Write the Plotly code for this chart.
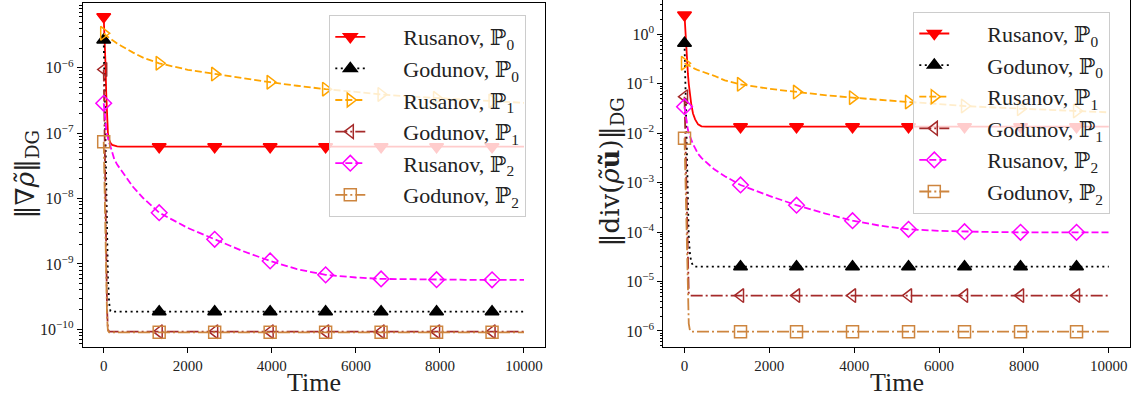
import plotly.graph_objects as go

# ---------------- data ----------------
time = [0, 20, 40, 60, 80, 100, 130, 160, 200, 250, 320, 400, 500, 700, 950,
        1320, 2000, 2640, 3300, 3960, 4600, 5280, 6000, 6600, 7300, 7920, 8600, 9240, 10000]
marker_times = [0, 1320, 2640, 3960, 5280, 6600, 7920, 9240]

labels = ["Rusanov, ℙ<sub>0</sub>", "Godunov, ℙ<sub>0</sub>", "Rusanov, ℙ<sub>1</sub>",
          "Godunov, ℙ<sub>1</sub>", "Rusanov, ℙ<sub>2</sub>", "Godunov, ℙ<sub>2</sub>"]

# left panel: ||grad rho~||_DG
grad_rus_p0 = [6.0e-6, 3.2e-6, 1.26e-6, 4.0e-7, 1.4e-7, 1.0e-7, 7.9e-8, 7.1e-8, 6.6e-8, 6.4e-8,
               6.25e-8, 6.2e-8, 6.2e-8, 6.2e-8, 6.2e-8, 6.2e-8, 6.2e-8, 6.2e-8, 6.2e-8, 6.2e-8,
               6.2e-8, 6.2e-8, 6.2e-8, 6.2e-8, 6.2e-8, 6.2e-8, 6.2e-8, 6.2e-8, 6.2e-8]
grad_god_p0 = [2.65e-6, 6.0e-7, 1.0e-7, 1.3e-8, 2.0e-9, 6.3e-10, 2.5e-10, 1.9e-10, 1.86e-10, 1.86e-10,
               1.86e-10, 1.86e-10, 1.86e-10, 1.86e-10, 1.86e-10, 1.86e-10, 1.86e-10, 1.86e-10, 1.86e-10, 1.86e-10,
               1.86e-10, 1.86e-10, 1.86e-10, 1.86e-10, 1.86e-10, 1.86e-10, 1.86e-10, 1.86e-10, 1.86e-10]
grad_rus_p1 = [3.36e-6, 3.24e-6, 3.16e-6, 3.09e-6, 3.02e-6, 2.95e-6, 2.85e-6, 2.75e-6, 2.63e-6, 2.51e-6,
               2.34e-6, 2.19e-6, 2.0e-6, 1.70e-6, 1.41e-6, 1.17e-6, 9.3e-7, 8.0e-7, 6.9e-7, 6.0e-7,
               5.3e-7, 4.7e-7, 4.27e-7, 3.9e-7, 3.63e-7, 3.4e-7, 3.24e-7, 3.1e-7, 2.9e-7]
grad_god_p1 = [9.4e-7, 1.0e-7, 1.0e-8, 1.0e-9, 2.0e-10, 1.0e-10, 9.2e-11, 9.2e-11, 9.2e-11, 9.2e-11,
               9.2e-11, 9.2e-11, 9.2e-11, 9.2e-11, 9.2e-11, 9.2e-11, 9.2e-11, 9.2e-11, 9.2e-11, 9.2e-11,
               9.2e-11, 9.2e-11, 9.2e-11, 9.2e-11, 9.2e-11, 9.2e-11, 9.2e-11, 9.2e-11, 9.2e-11]
grad_rus_p2 = [2.86e-7, 2.0e-7, 1.41e-7, 1.12e-7, 9.5e-8, 8.3e-8, 7.1e-8, 6.3e-8, 5.0e-8, 4.0e-8,
               3.3e-8, 2.8e-8, 2.35e-8, 1.5e-8, 1.0e-8, 6.07e-9, 3.55e-9, 2.38e-9, 1.58e-9, 1.11e-9,
               8.3e-10, 6.8e-10, 6.2e-10, 5.9e-10, 5.8e-10, 5.73e-10, 5.72e-10, 5.72e-10, 5.72e-10]
grad_god_p2 = [7.4e-8, 1.5e-8, 2.5e-9, 5.0e-10, 1.5e-10, 9.5e-11, 9.0e-11, 9.0e-11, 9.0e-11, 9.0e-11,
               9.0e-11, 9.0e-11, 9.0e-11, 9.0e-11, 9.0e-11, 9.0e-11, 9.0e-11, 9.0e-11, 9.0e-11, 9.0e-11,
               9.0e-11, 9.0e-11, 9.0e-11, 9.0e-11, 9.0e-11, 9.0e-11, 9.0e-11, 9.0e-11, 9.0e-11]

# right panel: ||div(rho~ u~)||_DG
div_rus_p0 = [2.46, 1.12, 0.56, 0.28, 0.158, 0.10, 0.056, 0.038, 0.025, 0.019,
              0.0151, 0.0138, 0.01355, 0.01355, 0.01355, 0.01355, 0.01355, 0.01355, 0.01355, 0.01355,
              0.01355, 0.01355, 0.01355, 0.01355, 0.01355, 0.01355, 0.01355, 0.01355, 0.01355]
div_god_p0 = [0.66, 0.1, 0.01, 1.0e-3, 2.0e-4, 7.9e-5, 3.5e-5, 2.5e-5, 2.1e-5, 2.0e-5,
              2.0e-5, 2.0e-5, 2.0e-5, 2.0e-5, 2.0e-5, 2.0e-5, 2.0e-5, 2.0e-5, 2.0e-5, 2.0e-5,
              2.0e-5, 2.0e-5, 2.0e-5, 2.0e-5, 2.0e-5, 2.0e-5, 2.0e-5, 2.0e-5, 2.0e-5]
div_rus_p1 = [0.26, 0.254, 0.248, 0.243, 0.237, 0.232, 0.224, 0.216, 0.209, 0.20,
              0.188, 0.178, 0.166, 0.145, 0.117, 0.0975, 0.079, 0.068, 0.059, 0.0523,
              0.0468, 0.0428, 0.0389, 0.0355, 0.0331, 0.0313, 0.0295, 0.0281, 0.0264]
div_god_p1 = [0.0547, 6.3e-3, 6.3e-4, 6.3e-5, 1.0e-5, 5.6e-6, 5.2e-6, 5.2e-6, 5.2e-6, 5.2e-6,
              5.2e-6, 5.2e-6, 5.2e-6, 5.2e-6, 5.2e-6, 5.2e-6, 5.2e-6, 5.2e-6, 5.2e-6, 5.2e-6,
              5.2e-6, 5.2e-6, 5.2e-6, 5.2e-6, 5.2e-6, 5.2e-6, 5.2e-6, 5.2e-6, 5.2e-6]
div_rus_p2 = [0.0344, 0.0251, 0.0178, 0.0141, 0.0117, 0.010, 8.3e-3, 7.1e-3, 6.0e-3, 5.0e-3,
              3.8e-3, 3.16e-3, 2.63e-3, 1.86e-3, 1.35e-3, 8.97e-4, 5.4e-4, 3.5e-4, 2.4e-4, 1.7e-4,
              1.35e-4, 1.14e-4, 1.06e-4, 1.02e-4, 1.0e-4, 9.9e-5, 9.9e-5, 9.9e-5, 9.9e-5]
div_god_p2 = [0.0079, 1.6e-3, 2.5e-4, 3.2e-5, 5.0e-6, 1.4e-6, 1.0e-6, 9.7e-7, 9.7e-7, 9.7e-7,
              9.7e-7, 9.7e-7, 9.7e-7, 9.7e-7, 9.7e-7, 9.7e-7, 9.7e-7, 9.7e-7, 9.7e-7, 9.7e-7,
              9.7e-7, 9.7e-7, 9.7e-7, 9.7e-7, 9.7e-7, 9.7e-7, 9.7e-7, 9.7e-7, 9.7e-7]

x_ticks = [0, 2000, 4000, 6000, 8000, 10000]
grad_y_exponents = [-10, -9, -8, -7, -6]
div_y_exponents = [-6, -5, -4, -3, -2, -1, 0]

# ---------------- styles ----------------
styles = [
    dict(color="#ff0000", symbol="triangle-down", dash="solid"),
    dict(color="#000000", symbol="triangle-up", dash="2px,3.5px"),
    dict(color="#ffa500", symbol="triangle-right-open", dash="7px,3px"),
    dict(color="#a52a2a", symbol="triangle-left-open", dash="12px,3px,2px,3px"),
    dict(color="#ff00ff", symbol="diamond-open", dash="7px,3px"),
    dict(color="#cd853f", symbol="square-open", dash="12px,3px,2px,3px"),
]

FONT = "Liberation Serif, DejaVu Serif, serif"
TITLE_FONT = "DejaVu Serif, Liberation Serif, serif"
marker_idx = [time.index(t) for t in marker_times]
PAD = "\u00a0" * 6

fig = go.Figure()

panels = [
    ("x", "y", "legend", [grad_rus_p0, grad_god_p0, grad_rus_p1, grad_god_p1, grad_rus_p2, grad_god_p2]),
    ("x2", "y2", "legend2", [div_rus_p0, div_god_p0, div_rus_p1, div_god_p1, div_rus_p2, div_god_p2]),
]
for xa, ya, lg, series in panels:
    for i, (vals, st, lab) in enumerate(zip(series, styles, labels)):
        fig.add_trace(go.Scatter(
            x=time, y=vals, xaxis=xa, yaxis=ya, name=PAD + lab, legend=lg,
            legendgroup=f"{lg}_{i}",
            mode="lines+markers",
            line=dict(color=st["color"], width=1.8, dash=st["dash"]),
            marker=dict(symbol=st["symbol"], size=12, color=st["color"],
                        line=dict(color=st["color"], width=1.5)),
            selectedpoints=marker_idx,
            selected=dict(marker=dict(opacity=1)),
            unselected=dict(marker=dict(opacity=0)),
            hoverinfo="skip",
        ))

W, H = 1134, 403
def px_x(p):
    return p / W
def px_y(p):
    return 1 - p / H

def log_ticks(exps):
    vals = [10.0 ** e for e in exps]
    text = ["10<sup>" + str(e).replace("-", "−") + "</sup>" for e in exps]
    minor = [m * 10.0 ** e for e in range(min(exps) - 1, max(exps) + 1) for m in range(2, 10)]
    return vals, text, minor

axis_common = dict(showline=True, linecolor="black", linewidth=1, mirror=True,
                   ticks="outside", ticklen=5, tickcolor="black", showgrid=False,
                   zeroline=False, tickfont=dict(family=FONT, size=15, color="#222"))

xaxis_base = dict(axis_common, range=[-500, 10500], tickvals=x_ticks,
                  ticktext=[str(v) for v in x_ticks])

def yaxis_conf(exps, rng, dom):
    vals, text, minor = log_ticks(exps)
    return dict(axis_common, type="log", range=rng, domain=dom,
                tickmode="array", tickvals=vals, ticktext=text,
                tickfont=dict(family=FONT, size=16, color="#222"),
                minor=dict(ticks="outside", ticklen=2.5, tickcolor="black",
                           tickmode="array", tickvals=minor, showgrid=False))

legend_common = dict(xanchor="left", yanchor="top",
                     bgcolor="rgba(255,255,255,0.8)", bordercolor="#cccccc", borderwidth=1,
                     font=dict(family=FONT, size=22, color="#222"), traceorder="grouped",
                     tracegroupgap=0)

fig.update_layout(
    width=W, height=H, autosize=False,
    margin=dict(l=0, r=0, t=0, b=0, autoexpand=False),
    paper_bgcolor="white", plot_bgcolor="white",
    font=dict(family=FONT, color="#222"),
    showlegend=True,
    xaxis=dict(xaxis_base, domain=[px_x(82.7), px_x(545)], anchor="y"),
    yaxis=dict(yaxis_conf(grad_y_exponents, [-10.275, -5.015], [px_y(347.3), px_y(3.3)]), anchor="x"),
    xaxis2=dict(xaxis_base, domain=[px_x(663.3), px_x(1130)], anchor="y2"),
    yaxis2=dict(yaxis_conf(div_y_exponents, [-6.33, 0.694], [px_y(347.3), 1.0]), anchor="x2"),
    legend=dict(legend_common, x=px_x(329.3), y=px_y(15)),
    legend2=dict(legend_common, x=px_x(913.3), y=px_y(11.7)),
    annotations=[
        dict(text="‖∇<i>ρ̃</i>‖<sub>DG</sub>", x=px_x(26), y=px_y(174.5), xref="paper", yref="paper",
             xanchor="center", yanchor="middle",
             textangle=-90, showarrow=False, font=dict(family=TITLE_FONT, size=26, color="#222")),
        dict(text="‖div(<i>ρ̃</i><b>ũ</b>)‖<sub>DG</sub>", x=px_x(611), y=px_y(172.5), xref="paper", yref="paper",
             xanchor="center", yanchor="middle",
             textangle=-90, showarrow=False, font=dict(family=TITLE_FONT, size=26, color="#222")),
        dict(text="Time", x=px_x(314), y=px_y(382), xref="paper", yref="paper",
             xanchor="center", yanchor="middle",
             showarrow=False, font=dict(family=FONT, size=26, color="#222")),
        dict(text="Time", x=px_x(896.7), y=px_y(382), xref="paper", yref="paper",
             xanchor="center", yanchor="middle",
             showarrow=False, font=dict(family=FONT, size=26, color="#222")),
    ],
)

fig.write_html("out.html",
               config={"displayModeBar": False, "staticPlot": True},
               post_script="document.body.style.margin='0';document.body.style.padding='0';"
                           "document.body.style.overflow='hidden';")
